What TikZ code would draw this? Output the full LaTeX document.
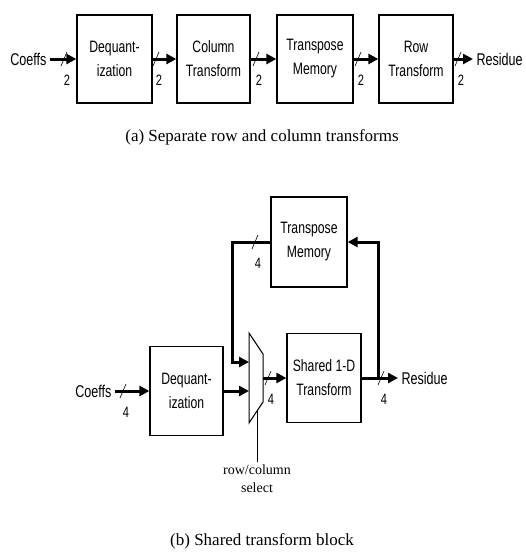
\documentclass[tikz,border=0pt]{standalone}
\usepackage{fontspec}
\setmainfont{Liberation Serif}
\newfontfamily\blkfont[FakeStretch=0.74]{Liberation Sans}
\usetikzlibrary{arrows.meta}

\tikzset{
  blk/.style = {draw, line width=1.3pt, minimum width=75pt, minimum height=88pt,
    align=center, font=\blkfont\fontsize{16.5}{24}\selectfont},
  lbl/.style = {font=\blkfont\fontsize{17}{18}\selectfont},
  bus/.style = {line width=3pt, -{Triangle[length=10pt,width=10pt]}},
  wid/.style = {font=\blkfont\fontsize{15}{16}\selectfont, inner sep=0pt},
  caption/.style = {font=\fontsize{17}{20}\selectfont}
}

% slash across a bus, with its width below
\newcommand{\buswid}[2]{%
  \begin{scope}[shift={(#1)}]
    \draw [line width=0.6pt] (-3,7) -- (3,-7);
    \node [wid] at (3,21) {#2};
  \end{scope}}

\begin{document}
\begin{tikzpicture}[x=1pt, y=-1pt]
  \useasboundingbox (0,0) rectangle (525,554);

  % (a) separate row and column transforms
  \node (coeffsA) [lbl, anchor=east] at (50,59) {Coeffs};
  \node (deqA) [blk] at (114.5,59) {Dequant-\\ization};
  \node (colA) [blk, minimum width=73pt] at (213.5,59) {Column\\Transform};
  \node (tmA) [blk, minimum width=76pt] at (315,59) {Transpose\\Memory};
  \node (rowA) [blk, minimum width=74pt] at (416,59) {Row\\Transform};
  \node (resA) [lbl, anchor=west] at (473,59) {Residue};

  \draw [bus] (coeffsA.east) -- (deqA.west);
  \draw [bus] (deqA.east) -- (colA.west);
  \draw [bus] (colA.east) -- (tmA.west);
  \draw [bus] (tmA.east) -- (rowA.west);
  \draw [bus] (rowA.east) -- (resA.west);
  \buswid{64,59}{2}
  \buswid{156,59}{2}
  \buswid{256,59}{2}
  \buswid{358,59}{2}
  \buswid{458,59}{2}

  \node (capA) [caption] at (262,137) {(a) Separate row and column transforms};

  % (b) shared transform block
  \node (tmB) [blk, minimum width=76pt, minimum height=90pt] at (309,242) {Transpose\\Memory};
  \node (shB) [blk, minimum width=74pt, minimum height=89pt] at (324,378) {Shared 1-D\\Transform};
  \node (deqB) [blk, minimum width=73pt, minimum height=89pt] at (186.5,391) {Dequant-\\ization};
  \node (coeffsB) [lbl, anchor=east] at (115,391) {Coeffs};
  \node (resB) [lbl, anchor=west] at (398,378) {Residue};

  % multiplexer
  \coordinate (muxTL) at (249,333);
  \coordinate (muxTR) at (263,354);
  \coordinate (muxBR) at (263,402);
  \coordinate (muxBL) at (249,423);
  \draw [line width=1pt] (muxTL) -- (muxTR) -- (muxBR) -- (muxBL) -- cycle;
  \coordinate (muxA) at (249,362);
  \coordinate (muxB) at (249,391);
  \coordinate (muxO) at (263,378);
  \coordinate (muxS) at (257,410);

  \coordinate (fbL) at (232,300);
  \coordinate (tapR) at (378,378);

  \draw [bus] (coeffsB.east) -- (deqB.west);
  \draw [bus] (deqB.east) -- (muxB);
  \draw [bus] (muxO) -- (shB.west);
  \draw [bus] (shB.east) -- (resB.west);
  \draw [bus] (tmB.west) -- (tmB.west -| fbL) -- (fbL |- muxA) -- (muxA);
  \draw [bus] (tapR) -- (tapR |- tmB.east) -- (tmB.east);
  \buswid{123,391}{4}
  \buswid{255,242}{4}
  \buswid{268,378}{4}
  \buswid{381,378}{4}

  \node (selB) [align=center, font=\fontsize{14}{18}\selectfont] at (257,479) {row/column\\select};
  \draw [line width=0.8pt] (muxS) -- (selB.north);

  \node (capB) [caption] at (262,541) {(b) Shared transform block};
\end{tikzpicture}
\end{document}
